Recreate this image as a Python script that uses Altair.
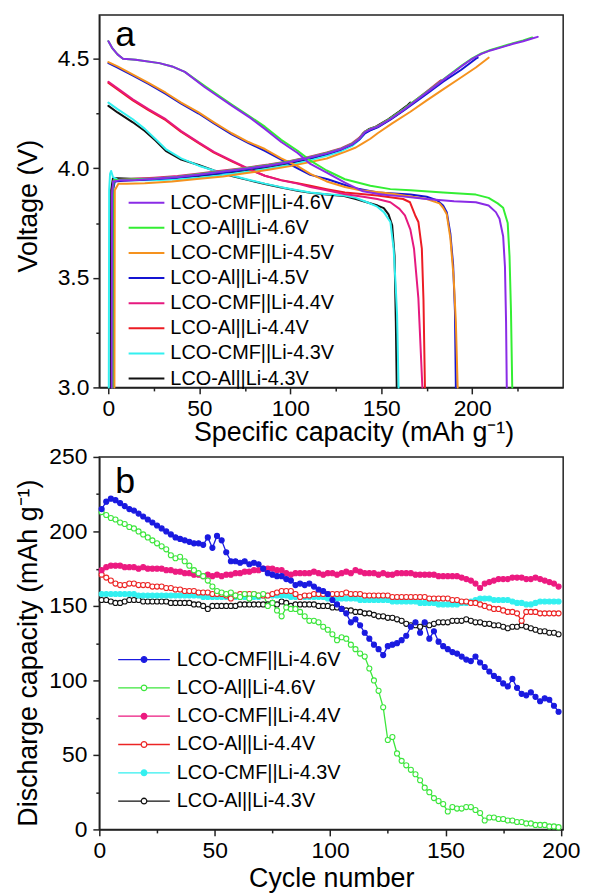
import altair as alt
import pandas as pd

FONT = "Liberation Sans"

# ---------------- Panel (a): voltage profiles ----------------
labels_a = ["LCO-CMF||Li-4.6V", "LCO-Al||Li-4.6V", "LCO-CMF||Li-4.5V", "LCO-Al||Li-4.5V",
            "LCO-CMF||Li-4.4V", "LCO-Al||Li-4.4V", "LCO-CMF||Li-4.3V", "LCO-Al||Li-4.3V"]
colors_a = ["#8a2be6", "#33ee33", "#f5921e", "#1414d2", "#e6197f", "#ec1c24", "#33f0f0", "#111111"]
draw_order_a = ["LCO-Al||Li-4.3V", "LCO-CMF||Li-4.3V", "LCO-Al||Li-4.4V", "LCO-CMF||Li-4.4V",
                "LCO-Al||Li-4.5V", "LCO-CMF||Li-4.5V", "LCO-Al||Li-4.6V", "LCO-CMF||Li-4.6V"]

# (capacity mAh/g, voltage V)
cmf46_charge = [(1.8, 3.0), (2.0, 3.88), (2.6, 3.94), (6, 3.945), (15, 3.947), (25, 3.952), (38, 3.96),
                (50, 3.972), (63, 3.985), (75, 3.998), (88, 4.013), (100, 4.03), (110, 4.048), (120, 4.068),
                (128, 4.088), (134, 4.11), (138, 4.135), (141, 4.165), (144, 4.178), (148, 4.19), (155, 4.225),
                (162, 4.265), (170, 4.315), (178, 4.365), (186, 4.415), (194, 4.465), (200, 4.5), (205, 4.522),
                (210, 4.538), (216, 4.552), (222, 4.567), (228, 4.58), (232, 4.59), (236, 4.6)]
cmf46_discharge = [(0, 4.58), (2, 4.55), (5, 4.52), (8, 4.5), (15, 4.495), (28, 4.48), (35, 4.465), (42, 4.44),
                   (53, 4.37), (60, 4.33), (68, 4.285), (78, 4.23), (86, 4.18), (95, 4.12), (104, 4.07),
                   (111, 4.02), (120, 3.98), (130, 3.935), (140, 3.895), (150, 3.88), (160, 3.873), (175, 3.86),
                   (190, 3.85), (202, 3.845), (209, 3.83), (213, 3.80), (215, 3.77), (217, 3.69), (218, 3.55),
                   (218.6, 3.3), (219, 3.0)]
al46_charge = [(2.2, 3.0), (2.4, 3.9), (3, 3.945), (6, 3.948), (15, 3.95), (25, 3.954), (38, 3.962), (50, 3.974),
               (63, 3.987), (75, 4.0), (88, 4.015), (100, 4.032), (110, 4.05), (120, 4.07), (128, 4.09),
               (134, 4.112), (138, 4.137), (141, 4.167), (144, 4.18), (148, 4.192), (155, 4.228), (162, 4.268),
               (170, 4.318), (178, 4.368), (186, 4.418), (194, 4.468), (200, 4.502), (205, 4.524), (210, 4.54),
               (216, 4.555), (222, 4.57), (228, 4.584), (233, 4.597)]
al46_discharge = [(0, 4.58), (2, 4.55), (5, 4.52), (8, 4.5), (15, 4.495), (28, 4.48), (35, 4.465), (42, 4.44),
                  (53, 4.375), (60, 4.335), (68, 4.29), (78, 4.235), (86, 4.19), (95, 4.13), (104, 4.08),
                  (111, 4.035), (120, 3.99), (130, 3.95), (144, 3.92), (155, 3.905), (166, 3.9), (184, 3.89),
                  (202, 3.88), (209, 3.865), (214, 3.84), (217, 3.82), (219.5, 3.75), (220.5, 3.6),
                  (221.3, 3.35), (222, 3.0)]
cmf45_charge = [(3.3, 3.0), (3.5, 3.9), (5.5, 3.93), (10, 3.93), (20, 3.932), (35, 3.94), (50, 3.952),
                (63, 3.963), (75, 3.977), (88, 3.993), (100, 4.01), (110, 4.027), (120, 4.045), (130, 4.075),
                (136, 4.095), (140, 4.115), (144, 4.135), (148, 4.16), (156, 4.205), (166, 4.258), (175, 4.31),
                (184, 4.36), (193, 4.41), (202, 4.46), (209, 4.505)]
cmf45_discharge = [(0, 4.485), (5, 4.465), (13, 4.43), (22, 4.39), (31.5, 4.345), (40, 4.3), (49.6, 4.255),
                   (58, 4.21), (67.8, 4.16), (77, 4.12), (86, 4.088), (95, 4.045), (104, 4.01), (111, 3.975),
                   (120, 3.94), (130, 3.915), (138.5, 3.9), (150, 3.89), (157, 3.883), (175, 3.86), (182, 3.84),
                   (184, 3.82), (186, 3.79), (188, 3.68), (189.8, 3.5), (191, 3.3), (192, 3.0)]
al45_charge = [(2.3, 3.0), (2.5, 3.9), (3.5, 3.94), (8, 3.943), (20, 3.948), (35, 3.956), (50, 3.968),
               (63, 3.98), (75, 3.994), (88, 4.01), (100, 4.027), (110, 4.045), (120, 4.065), (128, 4.086),
               (134, 4.108), (138, 4.132), (141, 4.16), (144, 4.173), (148, 4.187), (155, 4.222), (162, 4.262),
               (170, 4.31), (177, 4.352), (184, 4.395), (194, 4.45), (202, 4.5), (203, 4.505)]
al45_discharge = [(0, 4.48), (5, 4.46), (13, 4.425), (22, 4.385), (31.5, 4.34), (40, 4.295), (49.6, 4.25),
                  (58, 4.205), (67.8, 4.155), (77, 4.115), (86, 4.08), (95, 4.04), (104, 4.0), (111, 3.97),
                  (120.5, 3.95), (135, 3.91), (148, 3.89), (166, 3.88), (175, 3.87), (180.5, 3.855), (184, 3.83),
                  (186, 3.8), (188, 3.7), (189.5, 3.56), (190.5, 3.35), (191, 3.0)]
cmf44_charge = [(2.0, 3.0), (2.2, 3.9), (2.8, 3.945), (6, 3.948), (15, 3.952), (25, 3.957), (38, 3.965),
                (50, 3.976), (63, 3.99), (75, 4.002), (88, 4.017), (100, 4.034), (110, 4.052), (120, 4.072),
                (128, 4.092), (134, 4.115), (138, 4.14), (141, 4.168), (144, 4.18), (148, 4.193), (155, 4.228),
                (162, 4.268), (170, 4.318), (176, 4.357), (181, 4.39), (183, 4.402)]
cmf44_discharge = [(0, 4.395), (5, 4.365), (13.4, 4.315), (22, 4.27), (31.5, 4.224), (40, 4.17), (49.6, 4.118),
                   (58, 4.075), (67.8, 4.035), (77, 3.998), (86, 3.966), (95, 3.945), (104, 3.93), (111, 3.915),
                   (120, 3.9), (129.6, 3.883), (140, 3.87), (147.8, 3.86), (155, 3.845), (160, 3.815),
                   (163, 3.785), (166, 3.72), (168, 3.633), (170.4, 3.406), (172.6, 3.0)]
al44_charge = [(2.3, 3.0), (2.5, 3.9), (3, 3.94), (6, 3.944), (15, 3.948), (25, 3.953), (38, 3.961), (50, 3.972),
               (63, 3.985), (75, 3.998), (88, 4.013), (100, 4.03), (110, 4.048), (120, 4.068), (128, 4.088),
               (134, 4.11), (138, 4.136), (141, 4.164), (144, 4.176), (148, 4.189), (155, 4.224), (162, 4.264),
               (170, 4.314), (176, 4.353), (181, 4.388), (182.5, 4.4)]
al44_discharge = [(0, 4.39), (5, 4.36), (13.4, 4.31), (22, 4.265), (31.5, 4.22), (40, 4.166), (49.6, 4.115),
                  (58, 4.072), (67.8, 4.032), (77, 3.996), (86, 3.966), (95, 3.946), (104, 3.932), (111, 3.92),
                  (120, 3.905), (130, 3.89), (147.8, 3.876), (162, 3.86), (165.8, 3.845), (168.6, 3.786),
                  (170.4, 3.755), (172.3, 3.633), (173.2, 3.4), (174, 3.0)]
cmf43_charge = [(0.2, 3.0), (0.4, 3.9), (0.9, 3.975), (1.5, 3.988), (2.5, 3.96), (5, 3.948), (12, 3.945),
                (25, 3.946), (38, 3.95), (50, 3.958), (63, 3.97), (75, 3.983), (88, 3.999), (100, 4.016),
                (110, 4.035), (120, 4.057), (128, 4.078), (134, 4.102), (138, 4.13), (141, 4.16), (144, 4.175),
                (148, 4.188), (155, 4.225), (160, 4.255), (164, 4.28), (167, 4.3)]
cmf43_discharge = [(0, 4.3), (5, 4.27), (13.4, 4.224), (20, 4.18), (26, 4.133), (31.5, 4.088), (40, 4.045),
                   (49.6, 4.012), (58, 3.99), (67.8, 3.967), (77, 3.948), (86, 3.93), (95, 3.914), (104, 3.9),
                   (111, 3.89), (120, 3.882), (129.6, 3.876), (136, 3.865), (142.3, 3.845), (147.8, 3.825),
                   (151.4, 3.8), (155, 3.755), (156.8, 3.633), (158, 3.45), (158.7, 3.33), (159.5, 3.0)]
al43_charge = [(1.3, 3.0), (1.5, 3.9), (2.5, 3.955), (5, 3.955), (12, 3.952), (25, 3.952), (38, 3.956),
               (50, 3.963), (63, 3.974), (75, 3.987), (88, 4.003), (100, 4.02), (110, 4.04), (120, 4.062),
               (128, 4.084), (134, 4.108), (137, 4.128), (140, 4.16), (143, 4.178), (147, 4.19), (154, 4.225),
               (160, 4.26), (164, 4.285), (166, 4.3)]
al43_discharge = [(0, 4.285), (5, 4.255), (13.4, 4.21), (20, 4.17), (26, 4.126), (31.5, 4.08), (40, 4.04),
                  (49.6, 4.015), (58, 3.99), (67.8, 3.965), (77, 3.946), (86, 3.928), (95, 3.912), (104, 3.898),
                  (111, 3.888), (120, 3.88), (129.6, 3.873), (136, 3.86), (142, 3.845), (148, 3.83),
                  (151.4, 3.818), (154, 3.79), (156, 3.74), (157.3, 3.6), (158, 3.3), (158.5, 3.0)]

curves_a = {
    "LCO-CMF||Li-4.6V": (cmf46_charge, cmf46_discharge),
    "LCO-Al||Li-4.6V": (al46_charge, al46_discharge),
    "LCO-CMF||Li-4.5V": (cmf45_charge, cmf45_discharge),
    "LCO-Al||Li-4.5V": (al45_charge, al45_discharge),
    "LCO-CMF||Li-4.4V": (cmf44_charge, cmf44_discharge),
    "LCO-Al||Li-4.4V": (al44_charge, al44_discharge),
    "LCO-CMF||Li-4.3V": (cmf43_charge, cmf43_discharge),
    "LCO-Al||Li-4.3V": (al43_charge, al43_discharge),
}

rows_a = []
for name in draw_order_a:
    chg, dis = curves_a[name]
    for seg, pts in (("charge", chg), ("discharge", dis)):
        for i, (c, v) in enumerate(pts):
            rows_a.append({"series": name, "seg": name + " " + seg, "i": i, "cap": c, "v": v})
df_a = pd.DataFrame(rows_a)

# ---------------- Panel (b): cycling ----------------
labels_b = ["LCO-CMF||Li-4.6V", "LCO-Al||Li-4.6V", "LCO-CMF||Li-4.4V",
            "LCO-Al||Li-4.4V", "LCO-CMF||Li-4.3V", "LCO-Al||Li-4.3V"]
colors_b = ["#1a1ae0", "#3ce63c", "#ec1a80", "#ec2424", "#33f0f0", "#111111"]
fills_b = ["#1a1ae0", "#ffffff", "#ec1a80", "#ffffff", "#33f0f0", "#ffffff"]
draw_order_b = ["LCO-Al||Li-4.3V", "LCO-CMF||Li-4.3V", "LCO-Al||Li-4.4V",
                "LCO-CMF||Li-4.4V", "LCO-Al||Li-4.6V", "LCO-CMF||Li-4.6V"]

cycles = list(range(1, 200, 2))

cmf46_cap = [215, 220, 222, 221, 219, 217, 215, 214, 212, 210,
             208, 206, 204, 202, 200, 198, 196, 195, 194, 193,
             192, 192, 191, 196, 189, 197, 194, 186, 180, 180,
             179, 180, 178, 179, 178, 175, 172, 171, 170, 170,
             168, 167, 164, 165, 164, 165, 163, 161, 160, 158,
             154, 151, 148, 145, 139, 141, 137, 132, 128, 124,
             121, 117, 123, 124, 125, 127, 130, 136, 139, 132,
             139, 128, 133, 126, 123, 121, 119, 118, 116, 114,
             113, 116, 112, 109, 106, 103, 101, 98, 96, 101,
             95, 91, 90, 92, 89, 86, 88, 87, 83, 79]
al46_cap = [213, 211, 209, 208, 206, 205, 203, 202, 200, 198,
            196, 194, 192, 190, 188, 184, 182, 183, 180, 177,
            174, 172, 170, 167, 163, 160, 159, 158, 159, 157,
            156, 158, 155, 158, 157, 158, 150, 152, 147, 143,
            149, 148, 148, 146, 143, 140, 140, 139, 136, 134,
            131, 127, 129, 128, 124, 121, 118, 116, 108, 100,
            93, 82, 60, 62, 51, 46, 43, 40, 37, 33,
            28, 25, 21, 19, 17, 12, 15, 14, 14, 15,
            15, 13, 11, 6, 8, 8, 7, 7, 6, 6,
            5, 5, 4, 4, 3, 3, 3, 2, 2, 1.5]
cmf44_cap = [174, 176, 177, 177, 177, 176, 176, 176, 175, 176,
             175, 175, 175, 175, 174, 174, 173, 173, 172, 172,
             171, 171, 170, 171, 170, 171, 170, 171, 171, 172,
             172, 173, 173, 174, 174, 175, 175, 175, 174, 174,
             172, 171, 172, 172, 172, 172, 173, 172, 171, 172,
             172, 171, 172, 173, 172, 174, 173, 172, 172, 172,
             171, 172, 171, 171, 172, 172, 172, 172, 171, 171,
             171, 171, 171, 170, 170, 170, 170, 170, 169, 168,
             167, 165, 162, 165, 166, 167, 168, 168, 168, 169,
             169, 169, 168, 168, 169, 168, 167, 166, 165, 163]
al44_cap = [171, 169, 167, 165, 164, 164, 165, 165, 164, 164,
            164, 163, 163, 163, 162, 162, 161, 161, 160, 160,
            160, 159, 159, 159, 158, 158, 158, 157, 155, 157,
            158, 158, 158, 158, 157, 157, 157, 158, 159, 160,
            160, 160, 158, 156, 157, 157, 158, 158, 158, 158,
            158, 158, 158, 159, 158, 158, 158, 157, 157, 157,
            157, 157, 157, 156, 156, 156, 156, 156, 156, 156,
            156, 155, 155, 155, 155, 155, 154, 154, 153, 153,
            152, 152, 151, 150, 149, 148, 148, 147, 146, 146,
            145, 140, 146, 146, 146, 145, 145, 145, 145, 145]
cmf43_cap = [158, 158, 158, 158, 158, 158, 158, 158, 157, 157,
             157, 157, 157, 157, 157, 157, 157, 157, 157, 157,
             157, 157, 156, 156, 156, 156, 156, 156, 156, 156,
             156, 156, 156, 156, 156, 157, 157, 157, 157, 157,
             157, 156, 156, 156, 156, 156, 156, 156, 156, 155,
             155, 155, 155, 155, 155, 155, 154, 154, 154, 154,
             154, 154, 154, 153, 153, 153, 153, 153, 153, 152,
             152, 152, 152, 151, 151, 151, 151, 151, 152, 152,
             153, 154, 155, 155, 155, 154, 154, 154, 154, 153,
             152, 152, 151, 151, 152, 153, 153, 153, 153, 153]
al43_cap = [154, 154, 153, 152, 152, 153, 154, 154, 154, 153,
            153, 153, 153, 153, 153, 152, 152, 152, 152, 152,
            151, 151, 150, 148, 150, 150, 150, 150, 150, 150,
            151, 151, 151, 151, 151, 151, 151, 152, 151, 153,
            152, 150, 151, 151, 151, 151, 151, 150, 150, 150,
            149, 149, 148, 147, 147, 146, 146, 145, 145, 144,
            143, 143, 142, 142, 141, 140, 138, 137, 137, 136,
            138, 137, 138, 139, 139, 139, 140, 140, 140, 141,
            140, 139, 139, 138, 138, 137, 137, 136, 135, 136,
            136, 137, 136, 135, 134, 133, 133, 132, 132, 131]

values_b = {
    "LCO-CMF||Li-4.6V": cmf46_cap, "LCO-Al||Li-4.6V": al46_cap,
    "LCO-CMF||Li-4.4V": cmf44_cap, "LCO-Al||Li-4.4V": al44_cap,
    "LCO-CMF||Li-4.3V": cmf43_cap, "LCO-Al||Li-4.3V": al43_cap,
}
rows_b = []
for name in draw_order_b:
    for c, v in zip(cycles, values_b[name]):
        rows_b.append({"series": name, "cycle": c, "cap": v})
df_b = pd.DataFrame(rows_b)

# ---------------- axes ----------------
def minor_size(test):
    return {"condition": {"test": test, "value": 3.5}, "value": 6.5}

test50 = "datum.value % 50 !== 0"
test_half = "abs(datum.value * 2 - round(datum.value * 2)) > 0.01"

axis_xa = alt.Axis(values=[0, 25, 50, 75, 100, 125, 150, 175, 200, 225],
                   labelExpr="datum.value % 50 === 0 ? datum.label : ''",
                   tickSize=minor_size(test50), labelPadding=4, labelOverlap=False, labelFlush=False,
                   title="Specific capacity (mAh g⁻¹)", titleX=256, titleY=53, titleBaseline="alphabetic")
axis_ya = alt.Axis(values=[3.0, 3.25, 3.5, 3.75, 4.0, 4.25, 4.5], format=".1f",
                   labelExpr="abs(datum.value * 2 - round(datum.value * 2)) < 0.01 ? datum.label : ''",
                   tickSize=minor_size(test_half), labelPadding=4, labelOverlap=False, labelFlush=False,
                   title="Voltage (V)", titleX=-71, titleY=192, titleBaseline="middle", titleAngle=270)
axis_xb = alt.Axis(values=[0, 25, 50, 75, 100, 125, 150, 175, 200],
                   labelExpr="datum.value % 50 === 0 ? datum.label : ''",
                   tickSize=minor_size(test50), labelPadding=4, labelOverlap=False, labelFlush=False,
                   title="Cycle number", titleY=57, titleBaseline="alphabetic")
axis_yb = alt.Axis(values=[0, 25, 50, 75, 100, 125, 150, 175, 200, 225, 250],
                   labelExpr="datum.value % 50 === 0 ? datum.label : ''",
                   tickSize=minor_size(test50), labelPadding=6, labelOverlap=False, labelFlush=False,
                   title="Discharge capacity (mAh g⁻¹)", titleX=-71, titleY=197, titleBaseline="middle",
                   titleAngle=270)

# legend symbols are drawn as paths twice as long as their nominal size so the rows stay compact
line_path = "M-2,0L2,0"
legend_a = alt.Legend(title=None, orient="none", legendX=37.5, legendY=179, symbolType=line_path,
                      symbolSize=324, symbolStrokeWidth=2, labelFontSize=20, rowPadding=5.3,
                      labelOffset=14, padding=0)
marker_path = ("M-2,0L-0.22,0M0.22,0L2,0M0.22,0A0.22,0.22,0,1,1,-0.22,0"
               "A0.22,0.22,0,1,1,0.22,0Z")
legend_b = alt.Legend(title=None, orient="none", legendX=31, legendY=190, symbolType=marker_path,
                      symbolSize=676, symbolStrokeWidth=1.3, labelFontSize=20, rowPadding=4.5,
                      labelOffset=19, padding=0)

# ---------------- panel a ----------------
xa = alt.X("cap:Q", scale=alt.Scale(domain=[-5, 250], nice=False, zero=False), axis=axis_xa)
ya = alt.Y("v:Q", scale=alt.Scale(domain=[3.0, 4.7], nice=False, zero=False), axis=axis_ya)
lines_a = alt.Chart(df_a).mark_line(strokeWidth=2, strokeJoin="round", strokeCap="round").encode(
    x=xa, y=ya,
    stroke=alt.Stroke("series:N", scale=alt.Scale(domain=labels_a, range=colors_a), legend=legend_a),
    detail="seg:N",
    order="i:Q",
)
tag_a = alt.Chart(pd.DataFrame({"t": ["a"]})).mark_text(
    font=FONT, fontSize=36, align="left", baseline="alphabetic", color="black"
).encode(text="t:N", x=alt.value(16), y=alt.value(31))
top = alt.layer(lines_a, tag_a).properties(width=467, height=375)

# ---------------- panel b ----------------
xb = alt.X("cycle:Q", scale=alt.Scale(domain=[0, 201], nice=False, zero=False), axis=axis_xb)
yb = alt.Y("cap:Q", scale=alt.Scale(domain=[0, 250], nice=False, zero=False), axis=axis_yb)
stroke_b = alt.Stroke("series:N", scale=alt.Scale(domain=labels_b, range=colors_b), legend=legend_b)
lines_b = alt.Chart(df_b).mark_line(strokeWidth=1.3).encode(x=xb, y=yb, stroke=stroke_b, detail="series:N")
pts_b = alt.Chart(df_b).mark_point(shape="circle", size=26, strokeWidth=1.1, opacity=1).encode(
    x=xb, y=yb, stroke=stroke_b,
    fill=alt.Fill("series:N", scale=alt.Scale(domain=labels_b, range=fills_b), legend=legend_b),
)
tag_b = alt.Chart(pd.DataFrame({"t": ["b"]})).mark_text(
    font=FONT, fontSize=36, align="left", baseline="alphabetic", color="black"
).encode(text="t:N", x=alt.value(16), y=alt.value(36))
bottom = alt.layer(lines_b, pts_b, tag_b).properties(width=467, height=375)

chart = alt.vconcat(top, bottom, spacing=70, bounds="flush").resolve_scale(
    stroke="independent", fill="independent"
).resolve_legend(
    stroke="independent", fill="independent"
).properties(
    padding={"left": 14, "top": 11, "right": 8, "bottom": 0},
    background="white",
).configure_view(
    stroke="#222222", strokeWidth=1.5
).configure_axis(
    grid=False, domainColor="#222222", domainWidth=1.5, tickColor="#222222", tickWidth=1.5,
    labelFont=FONT, labelFontSize=23, labelColor="black",
    titleFont=FONT, titleFontSize=27, titleFontWeight="normal", titleColor="black",
).configure_legend(
    labelFont=FONT, labelColor="black", labelLimit=400
)

chart.save("out.html", embed_options={"renderer": "svg", "actions": False})
